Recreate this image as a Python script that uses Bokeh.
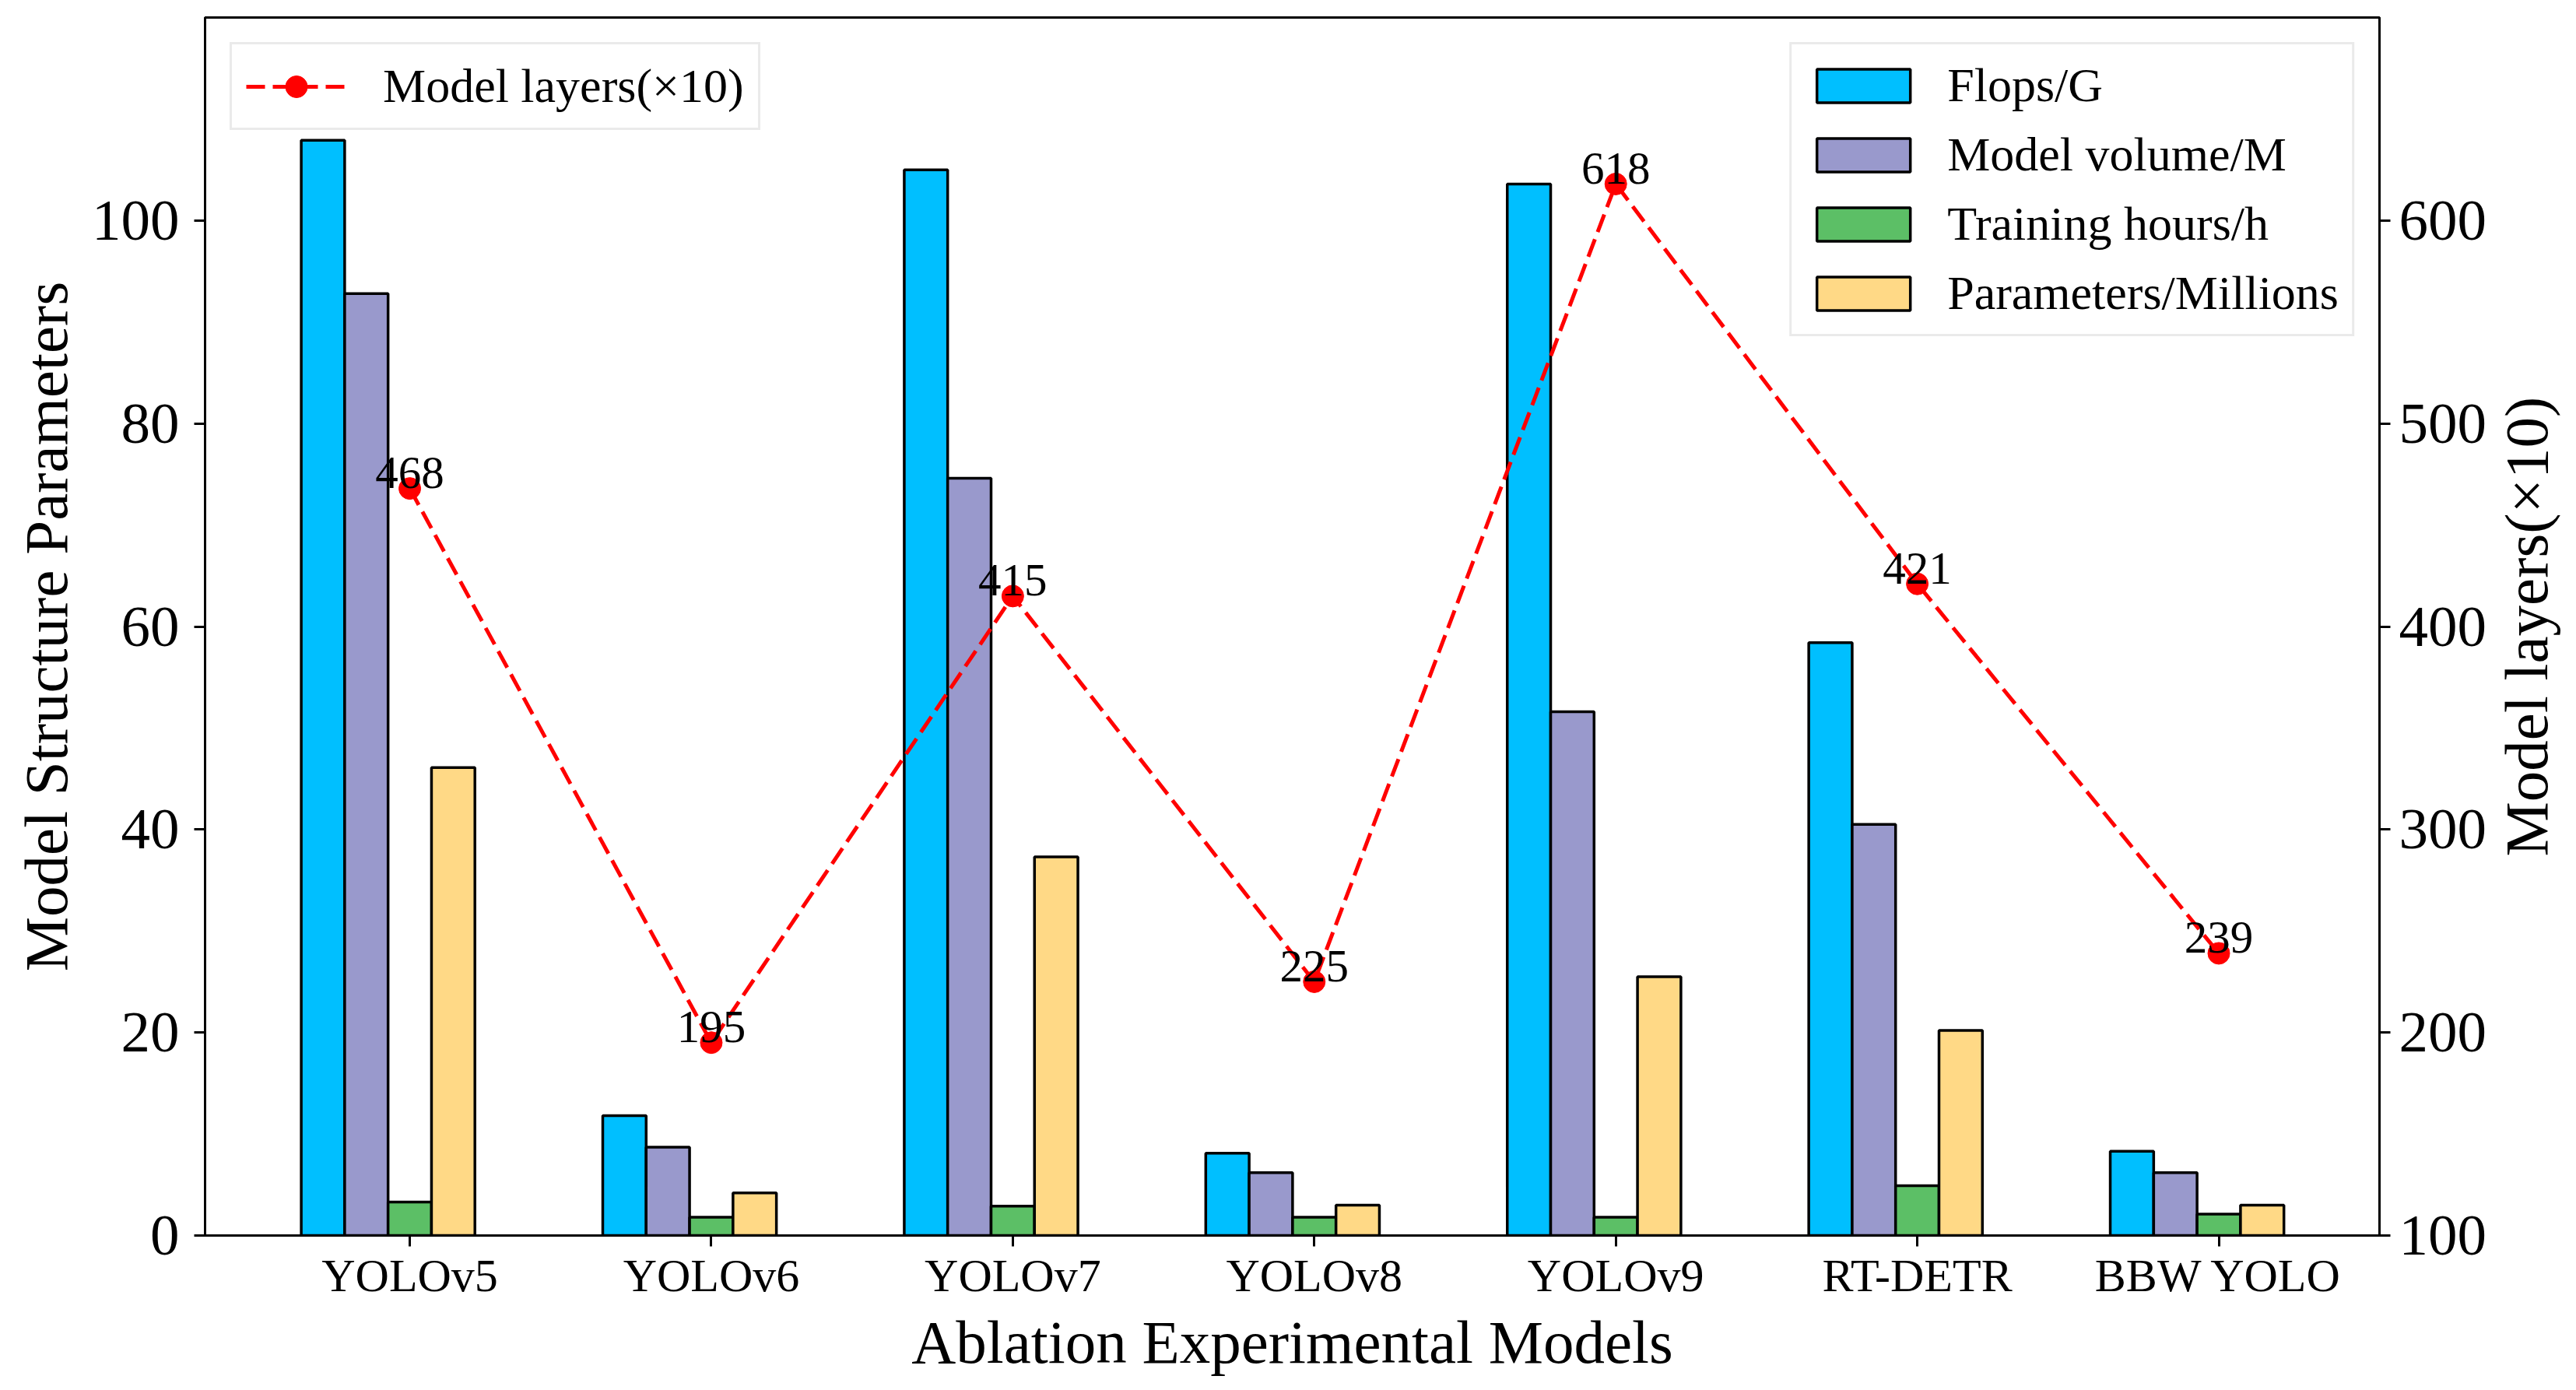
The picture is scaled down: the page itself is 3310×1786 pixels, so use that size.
import numpy as np
from bokeh.plotting import figure
from bokeh.layouts import row
from bokeh.models import Range1d, LinearAxis, FixedTicker, Legend, LegendItem
from bokeh.core.properties import value
from bokeh.embed import file_html
from bokeh.resources import INLINE

# ---------------- data ----------------
models = ["YOLOv5", "YOLOv6", "YOLOv7", "YOLOv8", "YOLOv9", "RT-DETR", "BBW YOLO"]
flops = [107.9, 11.8, 105.0, 8.1, 103.6, 58.4, 8.3]
model_volume = [92.8, 8.7, 74.6, 6.2, 51.6, 40.5, 6.2]
training_hours = [3.3, 1.8, 2.9, 1.8, 1.8, 4.9, 2.1]
parameters = [46.1, 4.2, 37.3, 3.0, 25.5, 20.2, 3.0]
model_layers = [468, 195, 415, 225, 618, 421, 239]

series_names = ["Flops/G", "Model volume/M", "Training hours/h", "Parameters/Millions"]
left_ticks = [0, 20, 40, 60, 80, 100]
right_ticks = [100, 200, 300, 400, 500, 600]
right_title = "Model layers(×10)"

# ---------------- style ----------------
FONT = "Liberation Serif"
colors = ["#00BFFF", "#9999CC", "#5CBF66", "#FFD986"]
bar_w = 0.144
offsets = [-2, -1, 0, 1]
X_LO, X_HI = -0.679, 6.533
Y_LO, Y_HI = 0, 120
TOP, BOTTOM = 22, 181

idx = np.arange(len(models))

p = figure(width=3198, height=1770,
           x_range=Range1d(X_LO, X_HI), y_range=Range1d(Y_LO, Y_HI),
           output_backend="svg", toolbar_location=None,
           min_border_left=263, min_border_right=138,
           min_border_top=TOP, min_border_bottom=BOTTOM)
p.extra_y_ranges = {"layers": Range1d(100, 700)}

p.xgrid.visible = False
p.ygrid.visible = False
p.outline_line_color = "black"
p.outline_line_width = 3
p.outline_line_alpha = 1.0
p.background_fill_color = "white"
p.border_fill_color = "white"

# bars
bar_renderers = []
for vals, off, col in zip([flops, model_volume, training_hours, parameters], offsets, colors):
    r = p.vbar(x=idx + off * bar_w, top=vals, bottom=0, width=bar_w,
               fill_color=col, line_color="black", line_width=3.5)
    bar_renderers.append(r)

# line on secondary axis
line_r = p.line(x=idx, y=model_layers, y_range_name="layers",
                line_color="red", line_width=5, line_dash="24 10")
sc_r = p.scatter(x=idx, y=model_layers, y_range_name="layers",
                 size=28, fill_color="red", line_color="red")
p.text(x=idx, y=model_layers, text=[str(v) for v in model_layers],
       y_range_name="layers", text_align="center", text_baseline="alphabetic",
       y_offset=-20,
       text_font=value(FONT), text_font_size="59px", text_color="black")

# axes
xa = p.xaxis[0]
xa.ticker = FixedTicker(ticks=list(range(len(models))))
xa.major_label_overrides = {i: m for i, m in enumerate(models)}
xa.axis_label = "Ablation Experimental Models"
xa.major_label_text_font_size = "60px"
xa.major_label_standoff = 4
xa.axis_label_standoff = 6

ya = p.yaxis[0]
ya.ticker = FixedTicker(ticks=left_ticks)
ya.axis_label = "Model Structure Parameters"
ya.major_label_text_font_size = "75px"
ya.major_label_standoff = 19
ya.axis_label_standoff = 12

ra = LinearAxis(y_range_name="layers", ticker=FixedTicker(ticks=right_ticks))
ra.major_label_text_font_size = "75px"
ra.major_label_standoff = 11
p.add_layout(ra, "right")

for ax in [xa, ya, ra]:
    ax.axis_label_text_font = FONT
    ax.axis_label_text_font_size = "79px"
    ax.axis_label_text_font_style = "normal"
    ax.axis_label_text_color = "black"
    ax.major_label_text_font = FONT
    ax.major_label_text_color = "black"
    ax.axis_line_color = "black"
    ax.axis_line_width = 3
    ax.major_tick_line_color = "black"
    ax.major_tick_line_width = 3
    ax.major_tick_out = 14
    ax.major_tick_in = 0
    ax.minor_tick_line_color = None

# legends
def style_legend(leg):
    leg.label_text_font = FONT
    leg.label_text_font_size = "62px"
    leg.label_text_color = "black"
    leg.margin = 32
    leg.border_line_color = "#d6d6d6"
    leg.border_line_width = 3
    leg.background_fill_color = "white"
    leg.background_fill_alpha = 0.8

leg1 = Legend(items=[LegendItem(label="Model layers(×10)", renderers=[line_r, sc_r])],
              location="top_left")
style_legend(leg1)
leg1.glyph_width = 129
leg1.glyph_height = 70
leg1.label_standoff = 47
leg1.padding = 18

leg2 = Legend(items=[LegendItem(label=n, renderers=[r]) for n, r in zip(series_names, bar_renderers)],
              location="top_right")
style_legend(leg2)
leg2.glyph_width = 150
leg2.glyph_height = 54
leg2.label_standoff = 33
leg2.padding = 17
leg2.spacing = 18

p.add_layout(leg1)
p.add_layout(leg2)

# narrow strip on the right carrying the secondary-axis title (reads bottom-to-top)
q = figure(width=96, height=1770, x_range=Range1d(0, 1), y_range=Range1d(Y_LO, Y_HI),
           output_backend="svg", toolbar_location=None,
           min_border_left=0, min_border_right=0,
           min_border_top=TOP, min_border_bottom=BOTTOM)
q.axis.visible = False
q.xgrid.visible = False
q.ygrid.visible = False
q.outline_line_color = None
q.background_fill_color = "white"
q.border_fill_color = "white"
q.text(x=[0.5], y=[(Y_LO + Y_HI) / 2], text=[right_title], angle=np.pi / 2,
       text_align="center", text_baseline="middle",
       text_font=value(FONT), text_font_size="79px", text_color="black")

layout = row(p, q, spacing=0)
open("out.html", "w").write(file_html(layout, INLINE))
